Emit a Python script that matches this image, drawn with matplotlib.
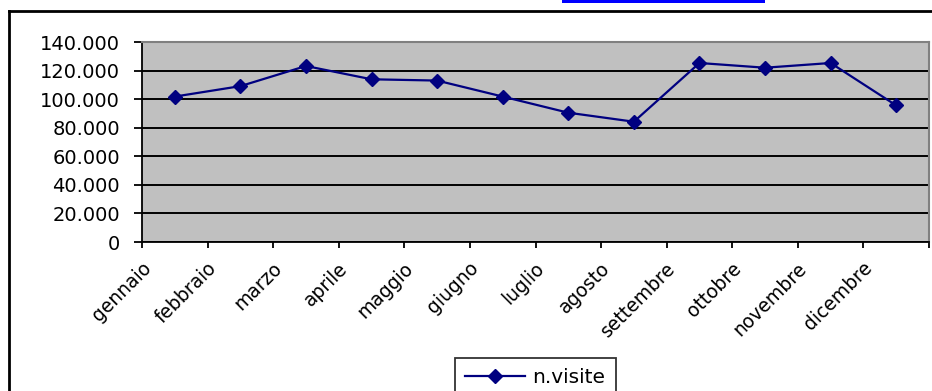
import matplotlib.pyplot as plt
import matplotlib.transforms as mtransforms
from matplotlib.lines import Line2D
from matplotlib.patches import Rectangle
from matplotlib.ticker import FuncFormatter

mesi = ['gennaio', 'febbraio', 'marzo', 'aprile', 'maggio', 'giugno',
        'luglio', 'agosto', 'settembre', 'ottobre', 'novembre', 'dicembre']
visite = [101800, 109100, 123200, 113900, 113000, 101800,
          90500, 84200, 125300, 122000, 125300, 95600]
serie = 'n.visite'

plt.rcParams['font.family'] = ['DejaVu Sans']
navy = '#000080'

fig = plt.figure(figsize=(9.32, 3.91), dpi=100)
W, H = 932, 391
ax = fig.add_axes([142 / W, 1 - 242 / H, (929 - 142) / W, (242 - 42) / H])
ax.set_facecolor('#c0c0c0')

x = [i + 0.5 for i in range(len(mesi))]
ax.plot(x, visite, color=navy, lw=1.6, marker='D', markersize=7.5,
        label=serie, zorder=3)

ax.set_xlim(0, len(mesi))
ax.set_ylim(0, 140000)
ax.set_yticks(range(0, 140001, 20000))
ax.yaxis.set_major_formatter(FuncFormatter(lambda v, p: f'{int(v):,}'.replace(',', '.')))
ax.grid(axis='y', color='black', lw=1.4)
ax.set_axisbelow(True)

# category boundaries get the tick marks, labels sit at centers
ax.set_xticks(range(len(mesi) + 1))
ax.set_xticklabels([])
ax.set_xticks(x, minor=True)
ax.set_xticklabels(mesi, minor=True, rotation=45, ha='right', va='top',
                   fontsize=13.5)
ax.tick_params(axis='x', which='minor', length=0, pad=12)
ax.tick_params(axis='x', which='major', length=4, width=1.3, color='black')
ax.tick_params(axis='y', length=6, width=1.3, labelsize=14, pad=10)
offset = mtransforms.ScaledTranslation(-20 / 100, 0, fig.dpi_scale_trans)
for lab in ax.get_xticklabels(minor=True):
    lab.set_transform(lab.get_transform() + offset)

for s in ['top', 'right']:
    ax.spines[s].set_color('#808080')
    ax.spines[s].set_linewidth(1.5)
for s in ['left', 'bottom']:
    ax.spines[s].set_color('black')
    ax.spines[s].set_linewidth(1.3)

# outer chart border (only left and top visible)
fig.add_artist(Line2D([8.5 / W, 8.5 / W], [-0.1, 1 - 10.5 / H], color='black', lw=2))
fig.add_artist(Line2D([8.5 / W, 1.1], [1 - 10.5 / H, 1 - 10.5 / H], color='black', lw=2))
# blue selection bar at the top
fig.add_artist(Rectangle((562 / W, 1 - 3 / H), (765 - 562) / W, 3 / H,
                         color='#0000ff', lw=0))

leg = fig.legend(loc='upper left', bbox_to_anchor=(455 / W, 1 - 358 / H),
                 frameon=True, fancybox=False, fontsize=14.5, handlelength=3.0,
                 handletextpad=0.35, borderpad=0.5, borderaxespad=0)
leg.get_frame().set_edgecolor('black')
leg.get_frame().set_linewidth(1.3)

fig.savefig('out.png', dpi=100)
